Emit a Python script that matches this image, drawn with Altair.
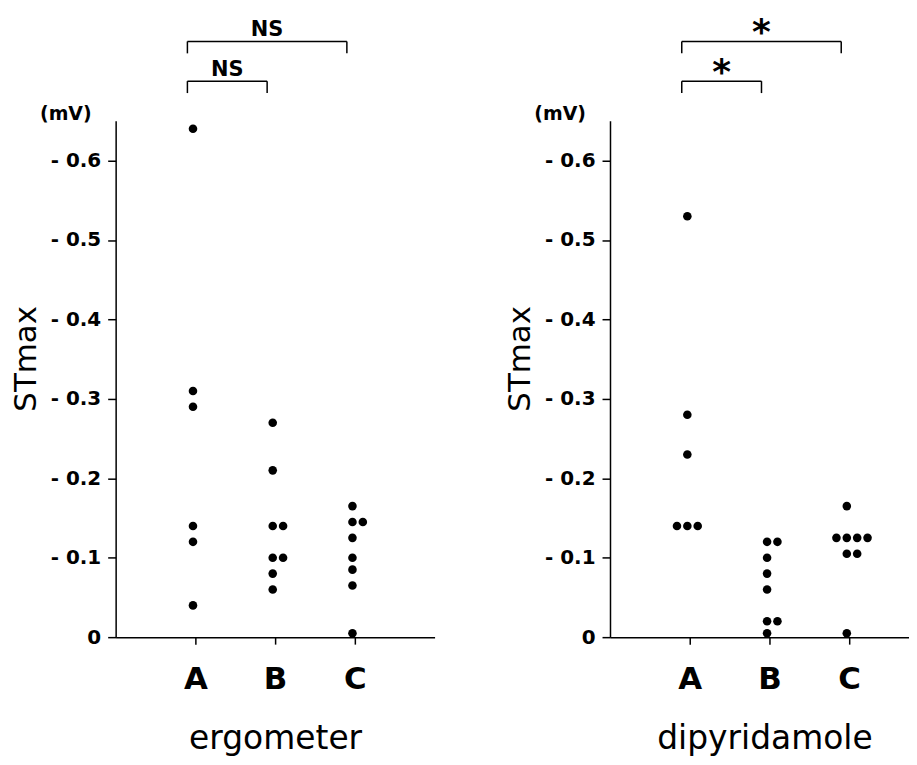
import altair as alt
import pandas as pd

# ---------------- data ----------------
groups = ["A", "B", "C"]
panels = ["ergometer", "dipyridamole"]

erg_A = [-0.64, -0.31, -0.29, -0.14, -0.12, -0.04]
erg_B = [-0.27, -0.21, -0.14, -0.14, -0.10, -0.10, -0.08, -0.06]
erg_C = [-0.165, -0.145, -0.145, -0.125, -0.10, -0.085, -0.065, -0.005]

dip_A = [-0.53, -0.28, -0.23, -0.14, -0.14, -0.14]
dip_B = [-0.12, -0.12, -0.10, -0.08, -0.06, -0.02, -0.02, -0.005]
dip_C = [-0.165, -0.125, -0.125, -0.125, -0.125, -0.105, -0.105, -0.005]

y_ticks = [0, -0.1, -0.2, -0.3, -0.4, -0.5, -0.6]

# significance comparisons
cmp_panel = ["ergometer", "ergometer", "dipyridamole", "dipyridamole"]
cmp_from = ["A", "A", "A", "A"]
cmp_to = ["B", "C", "B", "C"]
cmp_label = ["NS", "NS", "*", "*"]
cmp_level = [1, 2, 1, 2]

unit_label = "(mV)"
y_title = "STmax"

# ---------------- build tables ----------------
series = {
    ("ergometer", "A"): erg_A, ("ergometer", "B"): erg_B, ("ergometer", "C"): erg_C,
    ("dipyridamole", "A"): dip_A, ("dipyridamole", "B"): dip_B, ("dipyridamole", "C"): dip_C,
}
rows = []
for (p, g), vals in series.items():
    for v in vals:
        rows.append({"panel": p, "group": g, "value": v})
df = pd.DataFrame(rows)
df["gidx"] = df["group"].map({g: i + 1 for i, g in enumerate(groups)})
df["slot"] = df.groupby(["panel", "group", "value"]).cumcount()
df["n"] = df.groupby(["panel", "group", "value"])["value"].transform("size")
df["x"] = df["gidx"] + (df["slot"] - (df["n"] - 1) // 2) * 0.13 - 0.03

ymax = 0.65
cmp = pd.DataFrame({"panel": cmp_panel, "g1": cmp_from, "g2": cmp_to,
                    "label": cmp_label, "level": cmp_level})
gmap = {g: i + 1 for i, g in enumerate(groups)}
cmp["x1"] = cmp["g1"].map(gmap) - 0.1
cmp["x2"] = cmp["g2"].map(gmap) - 0.1
cmp["xm"] = (cmp["x1"] + cmp["x2"]) / 2
cmp["y"] = -(ymax + 0.05 * cmp["level"])
cmp["ylow"] = cmp["y"] + 0.015
legs = pd.concat([
    cmp[["panel", "x1", "y", "ylow"]].rename(columns={"x1": "xl"}),
    cmp[["panel", "x2", "y", "ylow"]].rename(columns={"x2": "xl"}),
])

FONT = "DejaVu Sans"
x_label_expr = "[" + ",".join("'%s'" % g for g in groups) + "][datum.value - 1]"
y_label_expr = "datum.value == 0 ? '0' : '- ' + format(-datum.value, '.1f')"

H = 518


def make_panel(name, width, xmax, lab_size, lab_weight, lab_dy, title_x):
    xs = alt.Scale(domain=[0, xmax], nice=False, zero=False)
    ys = alt.Scale(domain=[-ymax, 0], reverse=True, nice=False, zero=False)
    xa = alt.Axis(
        values=[1, 2, 3], labelExpr=x_label_expr, title=name,
        labelFontSize=31, labelFontWeight="bold", labelPadding=21,
        titleFontSize=33, titleFontWeight="normal", titlePadding=28,
        titleX=title_x, tickSize=7, grid=False)
    ya = alt.Axis(
        values=y_ticks, labelExpr=y_label_expr, title=y_title,
        labelFontSize=20, labelFontWeight="bold", labelPadding=7,
        titleFontSize=31, titleFontWeight="normal", titlePadding=8,
        titleY=H * 0.46, tickSize=8, grid=False)
    d = df[df["panel"] == name]
    c = cmp[cmp["panel"] == name]
    lg = legs[legs["panel"] == name]

    pts = alt.Chart(d).mark_circle(size=74, color="black", opacity=1).encode(
        x=alt.X("x:Q", scale=xs, axis=xa),
        y=alt.Y("value:Q", scale=ys, axis=ya),
    )
    hrule = alt.Chart(c).mark_rule(color="black", strokeWidth=1.5).encode(
        x=alt.X("x1:Q", scale=xs, axis=xa), x2="x2:Q",
        y=alt.Y("y:Q", scale=ys, axis=ya))
    vrule = alt.Chart(lg).mark_rule(color="black", strokeWidth=1.5).encode(
        x=alt.X("xl:Q", scale=xs, axis=xa),
        y=alt.Y("y:Q", scale=ys, axis=ya), y2="ylow:Q")
    txt = alt.Chart(c).mark_text(font=FONT, fontSize=lab_size, fontWeight=lab_weight,
                                 baseline="alphabetic", dy=lab_dy, color="black").encode(
        x=alt.X("xm:Q", scale=xs, axis=xa),
        y=alt.Y("y:Q", scale=ys, axis=ya), text="label:N")
    unit = alt.Chart(pd.DataFrame({"t": [unit_label]})).mark_text(
        font=FONT, fontSize=19, fontWeight="bold", baseline="middle", align="center",
        color="black").encode(x=alt.value(-50), y=alt.value(-7), text="t:N")
    return alt.layer(pts, hrule, vrule, txt, unit).properties(width=width, height=H)


left = make_panel("ergometer", 320, 4.0, 21, "bold", -5, 160)
right = make_panel("dipyridamole", 300, 3.75, 36, "bold", 3, 155)

chart = alt.hconcat(left, right, spacing=70).properties(
    padding={"left": 2, "top": 6, "right": 0, "bottom": 0}
).configure_view(strokeWidth=0).configure_axis(
    domainColor="black", domainWidth=1.5, tickColor="black", tickWidth=1.5,
    labelColor="black", titleColor="black", labelFont=FONT, titleFont=FONT,
    grid=False,
)

chart.save("out.html", embed_options={"renderer": "svg", "actions": False})
